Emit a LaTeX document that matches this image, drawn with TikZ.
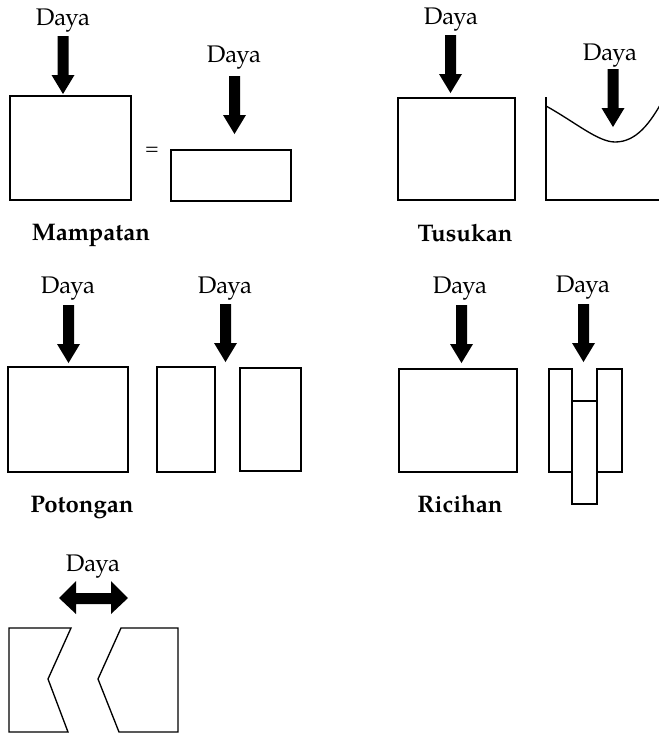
\documentclass[tikz,border=0pt]{standalone}
\usepackage{fontspec}
\setmainfont{TeX Gyre Pagella}
\begin{document}
\begin{tikzpicture}[x=0.75pt,y=-0.75pt,
  outline/.style={draw=black,line width=1pt,line join=miter},
  lbl/.style={anchor=base,inner sep=0pt,font=\fontsize{18}{20}\selectfont},
  title/.style={anchor=base,inner sep=0pt,font=\fontsize{18}{20}\selectfont\bfseries},
  downarrow/.pic={\fill[black] (-5.5,-58) -- (5.5,-58) -- (5.5,-19) -- (11.5,-19) -- (0,0) -- (-11.5,-19) -- (-5.5,-19) -- cycle;}]
\useasboundingbox (0,0) rectangle (659,733);
\clip (0,0) rectangle (659,733);
% Mampatan
\node[lbl] (d1) at (63,25) {Daya};
\pic at (63,94) {downarrow};
\draw[outline] (10,96) rectangle (131,200);
\node[lbl,font=\fontsize{14}{16}\selectfont] (eq) at (152,154) {=};
\node[lbl] (d2) at (234,62) {Daya};
\pic at (234.5,134) {downarrow};
\draw[outline] (171,150) rectangle (291,201);
\node[title] (t1) at (91,240) {Mampatan};
% Tusukan
\node[lbl] (d3) at (451,24) {Daya};
\pic at (450.5,93) {downarrow};
\draw[outline] (398,98) rectangle (515,200);
\draw[outline] (546,97) -- (546,200) -- (665,200);
\draw[outline] (546,106) .. controls (575,122) and (598,142) .. (615,142)
  .. controls (636,142) and (650,124) .. (664,98);
\node[lbl] (d4) at (610,60) {Daya};
\pic at (613,127) {downarrow};
\node[title] (t2) at (465,241) {Tusukan};
% Potongan
\node[lbl] (d5) at (68,293) {Daya};
\pic at (68.5,363) {downarrow};
\draw[outline] (8,367) rectangle (128,472);
\node[lbl] (d6) at (225,293) {Daya};
\pic at (225.5,362) {downarrow};
\draw[outline] (157,367) rectangle (215,472);
\draw[outline] (240,368) rectangle (301,471);
\node[title] (t3) at (82,512) {Potongan};
% Ricihan
\node[lbl] (d7) at (460,293) {Daya};
\pic at (461.5,363) {downarrow};
\draw[outline] (399,369) rectangle (517,472);
\node[lbl] (d8) at (583,292) {Daya};
\pic at (583.5,362) {downarrow};
\draw[outline] (549,369) rectangle (572,472);
\draw[outline] (597,369) rectangle (622,472);
\draw[outline] (572,401) rectangle (597,504);
\node[title] (t4) at (460,512) {Ricihan};
% bottom
\node[lbl] (d9) at (93,571) {Daya};
\fill[black] (59,598) -- (76,581) -- (76,593) -- (111,593) -- (111,581) -- (128,598)
  -- (111,614) -- (111,604) -- (76,604) -- (76,614) -- cycle;
\draw[outline] (9,732) -- (9,628) -- (71,628) -- (48,679) -- (68,732) -- cycle;
\draw[outline] (121,628) -- (178,628) -- (178,732) -- (119,732) -- (98,679) -- cycle;
\end{tikzpicture}
\end{document}
